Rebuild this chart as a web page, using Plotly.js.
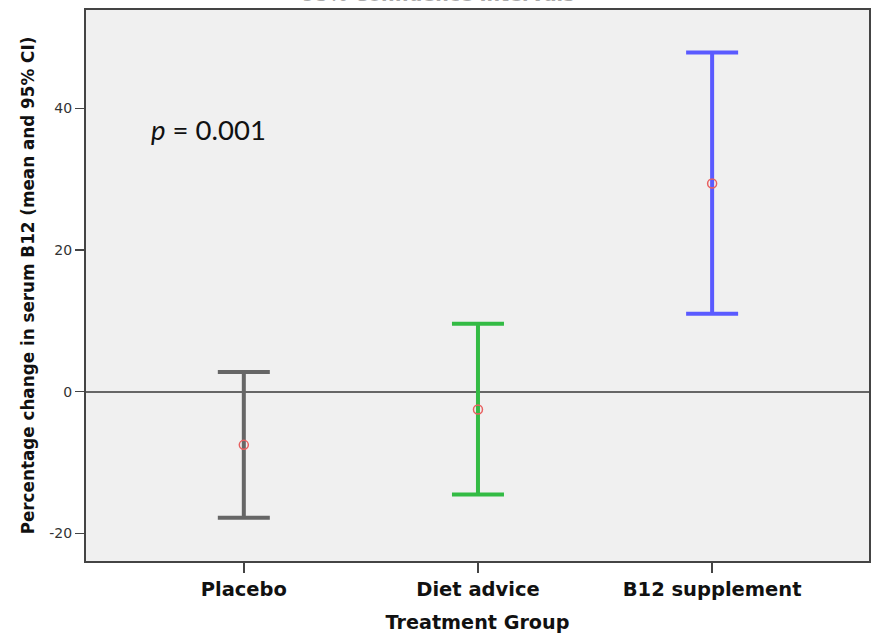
<!DOCTYPE html>
<html>
<head>
<meta charset="utf-8">
<script src="https://cdn.plot.ly/plotly-3.0.1.min.js"></script>
<style>
html,body{margin:0;padding:0;background:#fff;}
#chart{width:879px;height:634px;}
</style>
</head>
<body>
<div id="chart"></div>
<script>
const categories = ["Placebo", "Diet advice", "B12 supplement"];
const means = [-7.5, -2.5, 29.4];
const lowerCI = [-17.8, -14.5, 11.0];
const upperCI = [2.8, 9.6, 47.9];
const barColors = ["#666666", "#33bb44", "#5a5aff"];
const yTickVals = [-20, 0, 20, 40];
const yTickText = ["-20", "0", "20", "40"];

const traces = categories.map((c, i) => ({
  type: "scatter",
  mode: "markers",
  x: [c],
  y: [means[i]],
  marker: {symbol: "circle-open", size: 9, color: "#e86060", line: {width: 1.5, color: "#e86060"}},
  error_y: {
    type: "data",
    symmetric: false,
    array: [upperCI[i] - means[i]],
    arrayminus: [means[i] - lowerCI[i]],
    color: barColors[i],
    thickness: 4,
    width: 26
  },
  showlegend: false,
  hoverinfo: "x+y"
}));

const layout = {
  width: 879,
  height: 634,
  margin: {l: 86, r: 10, t: 10, b: 73},
  paper_bgcolor: "#ffffff",
  plot_bgcolor: "#f0f0f0",
  showlegend: false,
  xaxis: {
    type: "category",
    categoryorder: "array",
    categoryarray: categories,
    range: [-0.674, 2.67],
    showgrid: false,
    zeroline: false,
    showline: true,
    mirror: true,
    linecolor: "#444444",
    linewidth: 2,
    ticks: "outside",
    ticklen: 10,
    tickwidth: 1.5,
    tickcolor: "#444444",
    tickfont: {family: "DejaVu Sans", size: 19.5, color: "#111111", weight: "bold"},
    title: {text: "Treatment Group", font: {family: "DejaVu Sans", size: 19.2, color: "#111111", weight: "bold"}, standoff: 17}
  },
  yaxis: {
    range: [-23.9, 53.9],
    tickvals: yTickVals,
    ticktext: yTickText,
    showgrid: false,
    zeroline: true,
    zerolinecolor: "#666666",
    zerolinewidth: 2,
    showline: true,
    mirror: true,
    linecolor: "#444444",
    linewidth: 2,
    ticks: "outside",
    ticklen: 9,
    tickwidth: 1.5,
    tickcolor: "#444444",
    tickfont: {family: "DejaVu Sans", size: 14, color: "#333333"},
    title: {text: "Percentage change in serum B12 (mean and 95% CI)", font: {family: "DejaVu Sans", size: 16.8, color: "#111111", weight: "bold"}, standoff: 10}
  },
  annotations: [
    {
      text: "<i>p</i> = 0.001",
      xref: "paper", yref: "paper",
      x: 0.157, y: 0.783,
      xanchor: "center", yanchor: "middle",
      showarrow: false,
      font: {family: "Lato", size: 27.5, color: "#111111"}
    },
    {
      text: "95% Confidence Intervals",
      xref: "paper", yref: "paper",
      x: 0.45, y: 1,
      xanchor: "center", yanchor: "bottom",
      yshift: 3,
      showarrow: false,
      font: {family: "DejaVu Sans", size: 19, color: "#aaaaaa", weight: "bold"}
    }
  ]
};

Plotly.newPlot("chart", traces, layout, {displayModeBar: false, staticPlot: true});
</script>
</body>
</html>
